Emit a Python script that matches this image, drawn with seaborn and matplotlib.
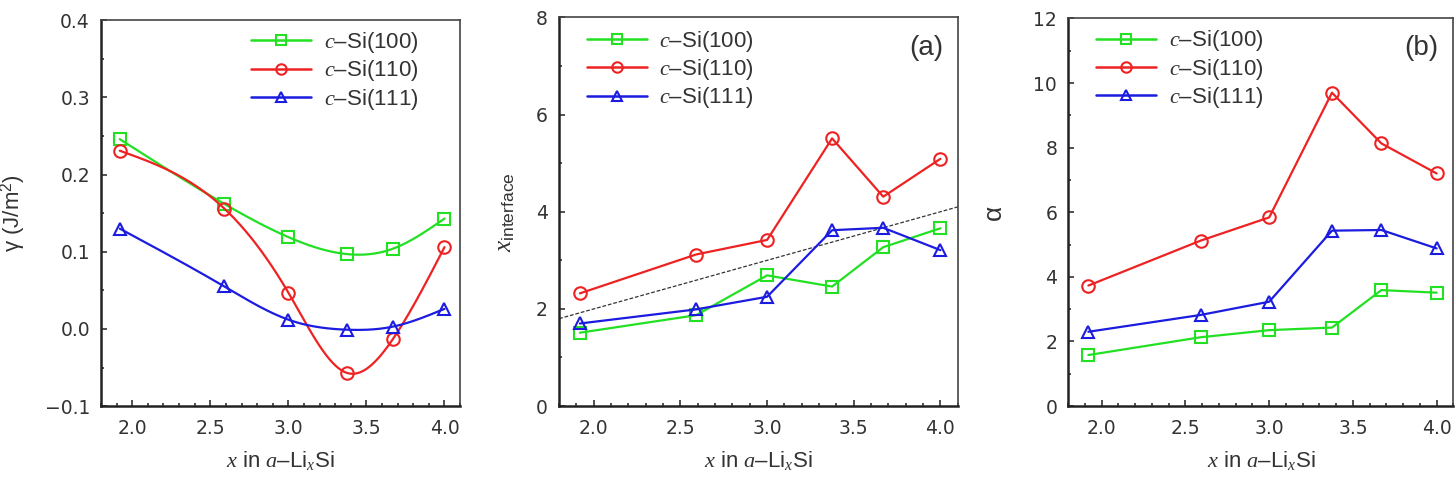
import numpy as np
import matplotlib
matplotlib.use("Agg")
import matplotlib.pyplot as plt
import seaborn as sns
from matplotlib.lines import Line2D
from matplotlib.ticker import MultipleLocator

# composition x in a-LixSi
x_li = [1.92, 2.59, 3.0, 3.375, 3.67, 4.0]
labels = ["(100)", "(110)", "(111)"]

# interface energy gamma (J/m^2)
gamma_100 = [0.246, 0.162, 0.119, 0.097, 0.104, 0.143]
gamma_110 = [0.231, 0.156, 0.047, -0.057, -0.013, 0.106]
gamma_111 = [0.130, 0.055, 0.012, -0.001, 0.003, 0.026]

# x at interface
xint_100 = [1.51, 1.87, 2.69, 2.46, 3.27, 3.66]
xint_110 = [2.32, 3.12, 3.42, 5.51, 4.31, 5.09]
xint_111 = [1.70, 1.99, 2.25, 3.62, 3.67, 3.21]

# alpha
alpha_100 = [1.58, 2.13, 2.35, 2.43, 3.59, 3.51]
alpha_110 = [3.73, 5.12, 5.84, 9.70, 8.13, 7.20]
alpha_111 = [2.30, 2.82, 3.23, 5.43, 5.45, 4.88]

# reference line x_interface = x
ref_x = [1.8, 4.1]

colors = ["#22e022", "#ee2222", "#1c1ce0"]
markers = ["s", "o", "^"]
ink = "#333333"
SANS = "Liberation Sans"

sns.set_theme(style="ticks")
plt.rcParams["font.family"] = ["DejaVu Sans"]
plt.rcParams["mathtext.fontset"] = "custom"
plt.rcParams["mathtext.it"] = "Liberation Serif:italic"
plt.rcParams["mathtext.rm"] = SANS
plt.rcParams["mathtext.sf"] = SANS
plt.rcParams["text.color"] = ink
plt.rcParams["axes.labelcolor"] = ink
plt.rcParams["xtick.color"] = ink
plt.rcParams["ytick.color"] = ink

TICK_FS = 13.5
LEG_FS = 16
LAB_FS = 16


def natural_spline(x, y, n=300):
    x = np.asarray(x, float)
    y = np.asarray(y, float)
    k = len(x)
    h = np.diff(x)
    A = np.zeros((k, k))
    b = np.zeros(k)
    A[0, 0] = A[-1, -1] = 1
    for i in range(1, k - 1):
        A[i, i - 1] = h[i - 1]
        A[i, i] = 2 * (h[i - 1] + h[i])
        A[i, i + 1] = h[i]
        b[i] = 6 * ((y[i + 1] - y[i]) / h[i] - (y[i] - y[i - 1]) / h[i - 1])
    M = np.linalg.solve(A, b)
    xs = np.linspace(x[0], x[-1], n)
    idx = np.clip(np.searchsorted(x, xs) - 1, 0, k - 2)
    x0, x1 = x[idx], x[idx + 1]
    hh = x1 - x0
    t0, t1 = x1 - xs, xs - x0
    ys = (M[idx] * t0 ** 3 + M[idx + 1] * t1 ** 3) / (6 * hh) \
        + (y[idx] / hh - M[idx] * hh / 6) * t0 \
        + (y[idx + 1] / hh - M[idx + 1] * hh / 6) * t1
    return xs, ys


def style_axes(ax, ylim, ymaj, ymin):
    ax.set_xlim(1.8, 4.1)
    ax.set_ylim(*ylim)
    ax.xaxis.set_major_locator(MultipleLocator(0.5))
    ax.xaxis.set_minor_locator(MultipleLocator(0.1))
    ax.yaxis.set_major_locator(MultipleLocator(ymaj))
    ax.yaxis.set_minor_locator(MultipleLocator(ymin))
    ax.tick_params(which="both", direction="in", top=False, right=False,
                   labelsize=TICK_FS, width=1.2)
    ax.tick_params(axis="x", pad=9)
    ax.tick_params(axis="y", pad=8)
    ax.tick_params(which="major", length=4)
    ax.tick_params(which="minor", length=2.5)
    for s in ["left", "bottom"]:
        ax.spines[s].set_linewidth(1.8)
        ax.spines[s].set_color("#222222")
    for s in ["top", "right"]:
        ax.spines[s].set_linewidth(1.2)
        ax.spines[s].set_color("#444444")
    ax.set_xlabel(r"$x$ in $a$–Li$_x$Si", fontsize=LAB_FS, family=SANS,
                  labelpad=8)


def add_legend(ax, loc, anchor):
    handles = [Line2D([], [], color=c, marker=m, mfc="none", mec=c, ms=7.5,
                      mew=1.5, lw=1.8) for c, m in zip(colors, markers)]
    names = [r"$c$–Si" + l for l in labels]
    ax.legend(handles, names, loc=loc, bbox_to_anchor=anchor, frameon=False,
              prop={"family": SANS, "size": LEG_FS}, handlelength=2.7,
              handletextpad=0.55, labelspacing=0.15, borderpad=0,
              borderaxespad=0)


fig = plt.figure(figsize=(14.56, 4.84), dpi=100)
ax1 = fig.add_axes([0.0694, 0.161, 0.2466, 0.797])
ax2 = fig.add_axes([0.3840, 0.161, 0.2738, 0.803])
ax3 = fig.add_axes([0.7337, 0.161, 0.2645, 0.801])

# panel 1: smooth curves through the points
for ys, c, m in zip([gamma_100, gamma_110, gamma_111], colors, markers):
    xs, yy = natural_spline(x_li, ys)
    sns.lineplot(x=xs, y=yy, color=c, lw=1.6, ax=ax1, sort=False, estimator=None)
    ax1.plot(x_li, ys, ls="none", marker=m, mfc="none", mec=c, ms=9, mew=1.5)
style_axes(ax1, (-0.1, 0.4), 0.1, 0.05)
ax1.set_ylabel(r"γ (J/m$^2$)", fontsize=LAB_FS, family=SANS, labelpad=12)
add_legend(ax1, "upper right", (0.883, 0.975))

# panel 2
sns.lineplot(x=ref_x, y=ref_x, color="#333333", lw=0.9, ls=(0, (3, 1.5)),
             ax=ax2, sort=False, estimator=None)
for ys, c, m in zip([xint_100, xint_110, xint_111], colors, markers):
    sns.lineplot(x=x_li, y=ys, color=c, marker=m, mfc="none", mec=c, ms=9,
                 mew=1.5, lw=1.6, ax=ax2, sort=False, estimator=None)
style_axes(ax2, (0, 8), 2, 1)
ax2.set_ylabel(r"$x_{\mathrm{interface}}$", fontsize=18, family=SANS,
               labelpad=14)
add_legend(ax2, "upper left", (0.070, 0.971))
ax2.text(0.963, 0.921, "(a)", transform=ax2.transAxes, ha="right",
         va="center", fontsize=20, family=SANS)

# panel 3
for ys, c, m in zip([alpha_100, alpha_110, alpha_111], colors, markers):
    sns.lineplot(x=x_li, y=ys, color=c, marker=m, mfc="none", mec=c, ms=9,
                 mew=1.5, lw=1.6, ax=ax3, sort=False, estimator=None)
style_axes(ax3, (0, 12), 2, 1)
ax3.set_ylabel("α", fontsize=19, family=SANS, labelpad=20)
add_legend(ax3, "upper left", (0.073, 0.974))
ax3.text(0.960, 0.923, "(b)", transform=ax3.transAxes, ha="right",
         va="center", fontsize=20, family=SANS)

fig.savefig("out.png", dpi=100)
